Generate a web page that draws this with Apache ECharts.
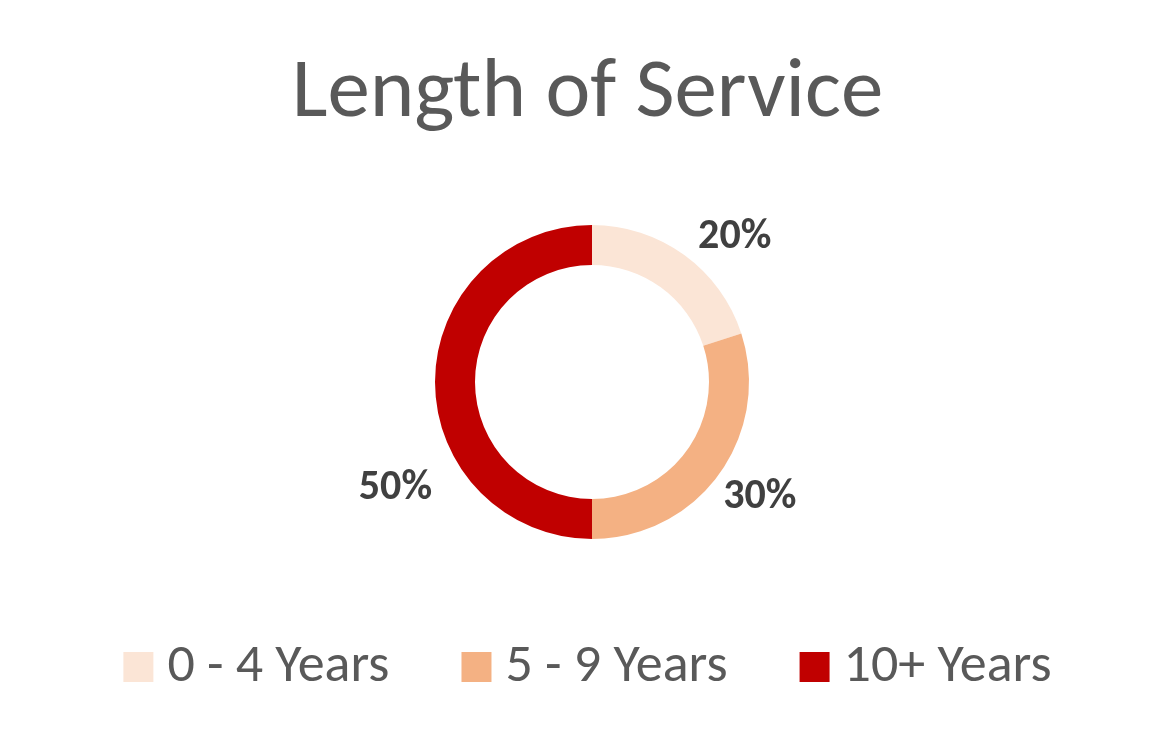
<!DOCTYPE html>
<html>
<head>
<meta charset="utf-8">
<script src="https://cdn.jsdelivr.net/npm/echarts@6/dist/echarts.min.js"></script>
<style>html,body{margin:0;padding:0;background:#fff}#c{width:1175px;height:739px}</style>
</head>
<body>
<div id="c"></div>
<script>
const categories = ['0 - 4 Years', '5 - 9 Years', '10+ Years'];
const values = [20, 30, 50];
const colors = ['#FBE5D6', '#F4B183', '#C00000'];
const FONT = 'Carlito, Calibri, Lato, sans-serif';
const labelShift = [[-30, -5], [-43, 14], [47, 106]];

const chart = echarts.init(document.getElementById('c'));
chart.setOption({
  backgroundColor: '#fff',
  animation: false,
  title: {
    text: 'Length of Service',
    left: 'center',
    top: 47,
    textStyle: { fontFamily: FONT, fontSize: 85, fontWeight: 'normal', color: '#595959' }
  },
  legend: {
    top: 635,
    left: 'center',
    itemWidth: 30,
    itemHeight: 30,
    itemGap: 72,
    icon: 'rect',
    textStyle: { fontFamily: FONT, fontSize: 54, color: '#595959', padding: [0, 0, 0, 9] },
    data: categories
  },
  series: [{
    type: 'pie',
    center: [592, 382],
    radius: [117, 157],
    startAngle: 90,
    clockwise: true,
    avoidLabelOverlap: false,
    data: categories.map((n, i) => ({ name: n, value: values[i], itemStyle: { color: colors[i] } })),
    label: {
      show: true,
      position: 'outside',
      formatter: p => p.value + '%',
      fontFamily: FONT,
      fontSize: 42,
      fontWeight: 'bold',
      color: '#404040'
    },
    labelLine: { show: false },
    labelLayout: p => ({ dx: labelShift[p.dataIndex][0], dy: labelShift[p.dataIndex][1] })
  }]
});
</script>
</body>
</html>
